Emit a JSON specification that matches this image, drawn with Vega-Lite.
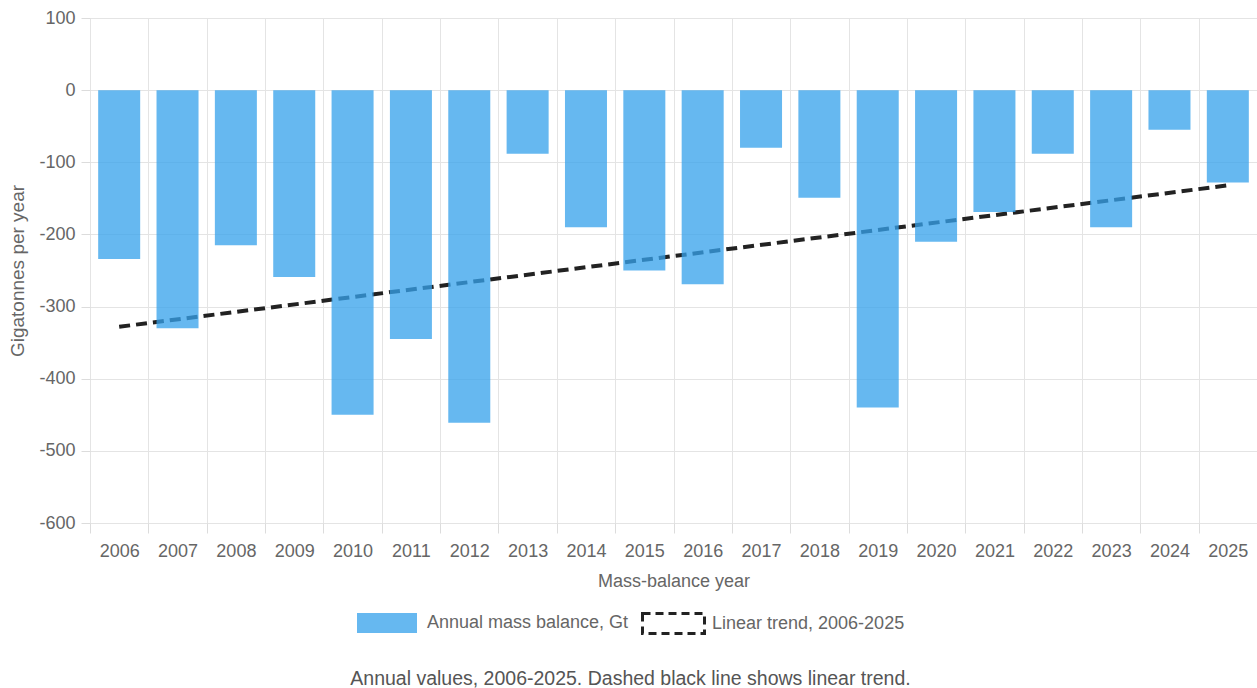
{
  "$schema": "https://vega.github.io/schema/vega-lite/v6.json",
  "width": 1167,
  "height": 505,
  "autosize": {"type": "none"},
  "padding": {"left": 90, "top": 18, "right": 0, "bottom": 165},
  "background": "white",
  "config": {
    "font": "Liberation Sans",
    "view": {"stroke": "#e4e4e4", "strokeWidth": 1},
    "axis": {
      "gridColor": "#e4e4e4",
      "tickColor": "#dcdcdc",
      "domainColor": "#e4e4e4",
      "labelColor": "#666666",
      "titleColor": "#666666",
      "labelFontSize": 18,
      "titleFontSize": 18,
      "titleFontWeight": "normal",
      "labelFont": "Liberation Sans",
      "titleFont": "Liberation Sans"
    }
  },
  "title": {
    "text": "Annual values, 2006-2025. Dashed black line shows linear trend.",
    "orient": "bottom",
    "anchor": "middle",
    "fontSize": 19.5,
    "fontWeight": "normal",
    "color": "#555555",
    "font": "Liberation Sans",
    "offset": 30,
    "dx": -43
  },
  "datasets": {
    "bars": [
      {"year": "2006", "value": -234},
      {"year": "2007", "value": -330},
      {"year": "2008", "value": -215},
      {"year": "2009", "value": -259},
      {"year": "2010", "value": -450},
      {"year": "2011", "value": -345},
      {"year": "2012", "value": -461},
      {"year": "2013", "value": -88},
      {"year": "2014", "value": -190},
      {"year": "2015", "value": -250},
      {"year": "2016", "value": -269},
      {"year": "2017", "value": -80},
      {"year": "2018", "value": -149},
      {"year": "2019", "value": -440},
      {"year": "2020", "value": -210},
      {"year": "2021", "value": -169},
      {"year": "2022", "value": -88},
      {"year": "2023", "value": -190},
      {"year": "2024", "value": -55},
      {"year": "2025", "value": -128}
    ],
    "trend": [
      {"year": "2006", "value": -328},
      {"year": "2025", "value": -132}
    ]
  },
  "layer": [
    {
      "data": {"name": "trend"},
      "mark": {"type": "line", "strokeDash": [11, 6], "strokeWidth": 4, "strokeCap": "butt"},
      "encoding": {
        "x": {"field": "year", "type": "ordinal"},
        "y": {"field": "value", "type": "quantitative"},
        "stroke": {
          "datum": "Linear trend, 2006-2025",
          "scale": {"domain": ["Linear trend, 2006-2025"], "range": ["#222222"]},
          "legend": {
            "orient": "none",
            "legendX": 551,
            "legendY": 584,
            "direction": "horizontal",
            "title": null,
            "labelFontSize": 18,
            "labelColor": "#666666",
            "labelFont": "Liberation Sans",
            "labelLimit": 0,
            "symbolSize": 1600,
            "symbolType": "M-1,-0.5H2.1V0.5H-1Z",
            "symbolFillColor": "transparent",
            "symbolStrokeColor": "#222222",
            "symbolStrokeWidth": 3,
            "symbolDash": [8, 5],
            "symbolOpacity": 1,
            "labelOffset": 28,
            "padding": 0
          }
        }
      }
    },
    {
      "data": {"name": "bars"},
      "mark": {"type": "bar", "width": {"band": 0.72}, "fillOpacity": 0.76, "cornerRadius": 0},
      "encoding": {
        "x": {
          "field": "year",
          "type": "ordinal",
          "scale": {"paddingInner": 0, "paddingOuter": 0},
          "axis": {
            "title": "Mass-balance year",
            "labelAngle": 0,
            "labelAlign": "center",
            "tickBand": "extent",
            "grid": true,
            "ticks": true,
            "tickSize": 10,
            "labelPadding": 18,
            "titlePadding": 12,
            "domain": false
          }
        },
        "y": {
          "field": "value",
          "type": "quantitative",
          "scale": {"domain": [-600, 100], "nice": false, "zero": false},
          "axis": {
            "title": "Gigatonnes per year",
            "titleFontSize": 19,
            "values": [-600, -500, -400, -300, -200, -100, 0, 100],
            "labelExpr": "'' + datum.value",
            "tickSize": 9,
            "labelPadding": 6,
            "titlePadding": 11,
            "domain": false,
            "grid": true
          }
        },
        "fill": {
          "datum": "Annual mass balance, Gt",
          "scale": {"domain": ["Annual mass balance, Gt"], "range": ["#36a2eb"]},
          "legend": {
            "orient": "none",
            "legendX": 267,
            "legendY": 585,
            "direction": "horizontal",
            "title": null,
            "labelFontSize": 18,
            "labelColor": "#666666",
            "labelFont": "Liberation Sans",
            "labelLimit": 0,
            "symbolSize": 1600,
            "symbolType": "M-1,-0.5H2V0.5H-1Z",
            "symbolStrokeColor": "transparent",
            "symbolStrokeWidth": 0,
            "symbolOpacity": 0.76,
            "labelOffset": 30,
            "padding": 0
          }
        }
      }
    }
  ]
}
